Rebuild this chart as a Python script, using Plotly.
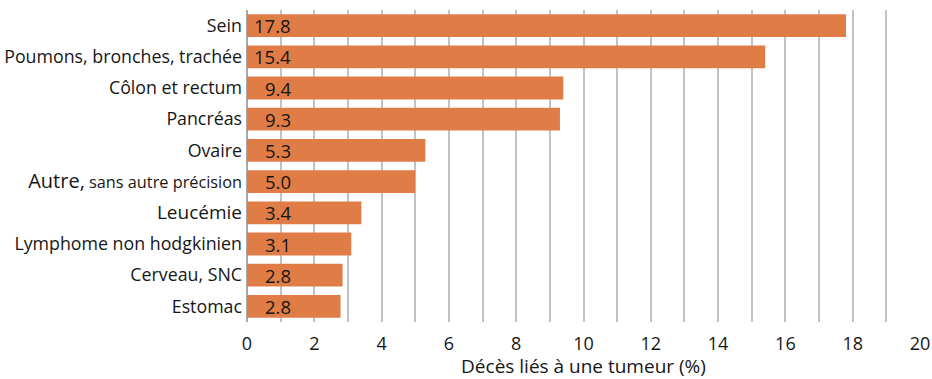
import plotly.graph_objects as go

categories = ["Sein", "Poumons, bronches, trachée", "Côlon et rectum", "Pancréas", "Ovaire",
              "Autre, sans autre précision", "Leucémie", "Lymphome non hodgkinien",
              "Cerveau, SNC", "Estomac"]
tick_labels = ["Sein", "Poumons, bronches, trachée", "Côlon et rectum", "Pancréas", "Ovaire",
               "<span style='font-size:20px'>Autre,</span><span style='font-size:16.3px'> sans autre précision</span>",
               "<span style='font-size:19px'>Leucémie</span>", "Lymphome non hodgkinien",
               "Cerveau, SNC", "Estomac"]
values = [17.8, 15.4, 9.4, 9.3, 5.3, 5.0, 3.4, 3.1, 2.84, 2.78]
x_ticks = [0, 2, 4, 6, 8, 10, 12, 14, 16, 18, 20]
x_title = "Décès liés à une tumeur (%)"

FONT = "Open Sans"
BAR = "#E07C46"
TXT = "#161616"

fig = go.Figure()
fig.add_trace(go.Bar(
    y=categories, x=values, orientation="h",
    marker=dict(color=BAR, line=dict(width=0)),
    hoverinfo="skip",
))

for c, v in zip(categories, values):
    fig.add_annotation(x=1.38, y=c, xref="x", yref="y", text=f"{v:.1f}",
                       xanchor="right", yanchor="middle", showarrow=False,
                       font=dict(family=FONT, size=18.5, color=TXT))

fig.update_layout(
    width=932, height=379,
    margin=dict(l=247, r=12, t=10, b=57, autoexpand=False),
    paper_bgcolor="white", plot_bgcolor="white",
    bargap=0.27,
    showlegend=False,
    font=dict(family=FONT, size=18, color=TXT),
)
fig.update_yaxes(
    autorange="reversed", automargin=False,
    tickmode="array", tickvals=categories, ticktext=tick_labels,
    tickfont=dict(family=FONT, size=17.8, color=TXT),
    showgrid=False, showline=False, ticks="", ticklabelstandoff=4,
)
fig.update_xaxes(
    range=[0, 20], automargin=False,
    tickmode="array", tickvals=x_ticks,
    tickfont=dict(family=FONT, size=18, color=TXT),
    showgrid=True, gridcolor="#C2C2C2", gridwidth=1.5,
    minor=dict(dtick=1, showgrid=True, gridcolor="#C2C2C2", gridwidth=1.5, tick0=0),
    zeroline=True, zerolinecolor="#A8A8A8", zerolinewidth=2,
    showline=False, ticks="", ticklabelstandoff=9,
    title=dict(text=x_title, font=dict(family=FONT, size=19, color=TXT), standoff=13),
)

fig.write_html("out.html")
